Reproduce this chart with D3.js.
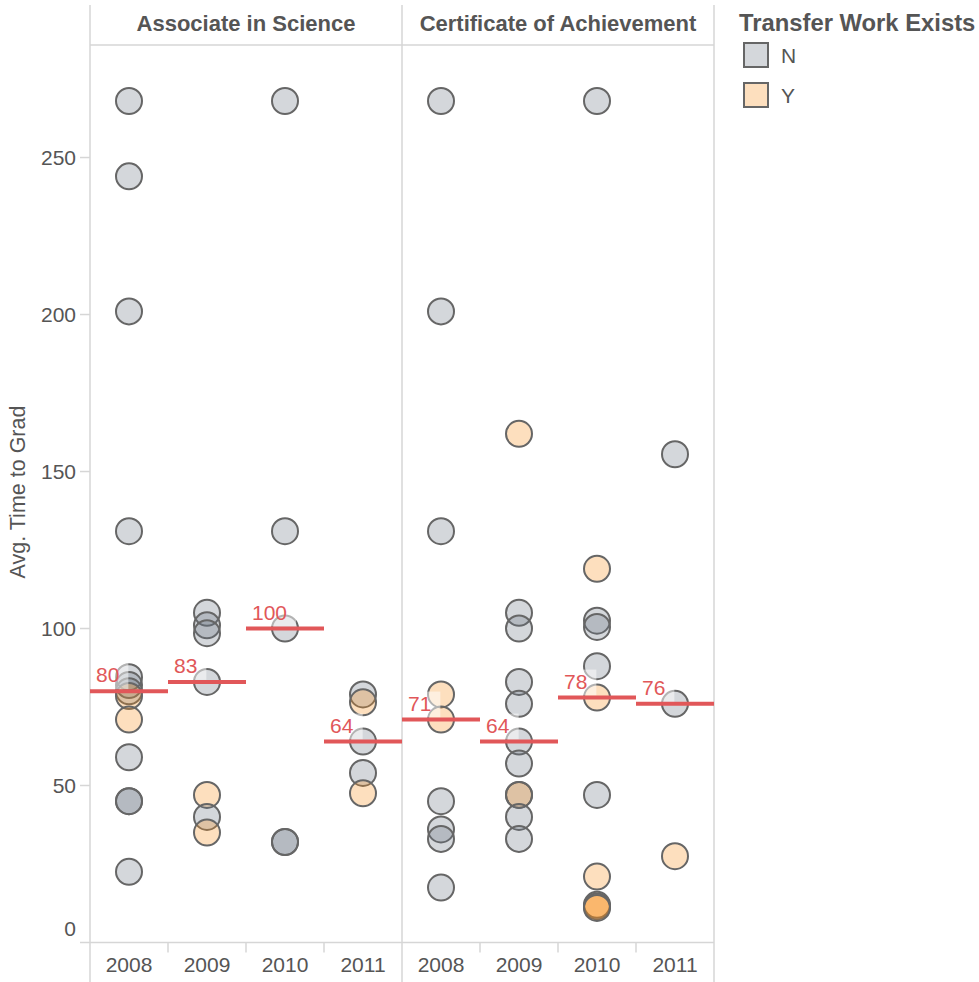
<!DOCTYPE html>
<html><head><meta charset="utf-8">
<script src="https://cdn.jsdelivr.net/npm/d3@7"></script>
<style>body{margin:0;background:#fff;} svg{display:block;font-family:"Liberation Sans",Arial,sans-serif;}</style>
</head><body><svg id="chart" width="979" height="982"></svg>
<script>
const degrees = ["Associate in Science", "Certificate of Achievement"];
const years = ["2008", "2009", "2010", "2011"];
const transferLevels = ["N", "Y"];
const yTickValues = [0, 50, 100, 150, 200, 250];
// [year, avg time to grad, transfer work exists]
const associatePoints = [
  ["2008", 268, "N"], ["2008", 244, "N"], ["2008", 201, "N"], ["2008", 131, "N"],
  ["2008", 84.5, "N"], ["2008", 82, "N"], ["2008", 80, "N"], ["2008", 78.5, "Y"],
  ["2008", 71, "Y"], ["2008", 59, "N"], ["2008", 45, "N"], ["2008", 45, "N"], ["2008", 22.5, "N"],
  ["2009", 105, "N"], ["2009", 101, "N"], ["2009", 98.5, "N"], ["2009", 83, "N"],
  ["2009", 47, "Y"], ["2009", 40, "N"], ["2009", 35, "Y"],
  ["2010", 268, "N"], ["2010", 131, "N"], ["2010", 100, "N"], ["2010", 32, "N"], ["2010", 32, "N"],
  ["2011", 79, "N"], ["2011", 76.5, "Y"], ["2011", 64, "N"], ["2011", 54, "N"], ["2011", 47.5, "Y"]
];
const certificatePoints = [
  ["2008", 268, "N"], ["2008", 201, "N"], ["2008", 131, "N"], ["2008", 79, "Y"], ["2008", 71, "Y"],
  ["2008", 45, "N"], ["2008", 36, "N"], ["2008", 33, "N"], ["2008", 17.5, "N"],
  ["2009", 162, "Y"], ["2009", 105, "N"], ["2009", 100, "N"], ["2009", 83, "N"], ["2009", 76, "N"],
  ["2009", 64, "N"], ["2009", 57, "N"], ["2009", 47, "N"], ["2009", 47, "Y"], ["2009", 40, "N"], ["2009", 33, "N"],
  ["2010", 268, "N"], ["2010", 119, "Y"], ["2010", 102.5, "N"], ["2010", 100.5, "N"], ["2010", 88, "N"],
  ["2010", 78, "Y"], ["2010", 47, "N"], ["2010", 21, "Y"], ["2010", 12, "Y"], ["2010", 11.5, "Y"], ["2010", 11, "Y"],
  ["2011", 155.5, "N"], ["2011", 76, "N"], ["2011", 27.5, "Y"]
];
const panelPoints = [associatePoints, certificatePoints];

const svg = d3.select("#chart");
const gridColor = "#d6d6d6";
const textColor = "#555";
const red = "#e15759";

const x0 = d3.scaleBand().domain(degrees).range([90, 714]);
const x1 = d3.scaleBand().domain(years).range([0, x0.bandwidth()]);
const y = d3.scaleLinear().domain([0, 286]).range([942.5, 44.5]);
const color = d3.scaleOrdinal().domain(transferLevels).range(["#65707e", "#f88c14"]);
const fillOpacity = 0.28;

// frame lines
const frame = svg.append("g").attr("stroke", gridColor).attr("stroke-width", 1.5);
[90, 402, 714].forEach(xv => frame.append("line").attr("x1", xv).attr("x2", xv).attr("y1", 5).attr("y2", 982));
frame.append("line").attr("x1", 90).attr("x2", 714).attr("y1", 45).attr("y2", 45);
frame.append("line").attr("x1", 80).attr("x2", 714).attr("y1", y(0)).attr("y2", y(0));

// y axis ticks & labels
yTickValues.forEach(v => {
  if (v !== 0) frame.append("line").attr("x1", 80).attr("x2", 90).attr("y1", y(v)).attr("y2", y(v));
  svg.append("text").attr("x", 76).attr("y", v === 0 ? y(v) - 7 : y(v) + 7.5)
    .attr("text-anchor", "end").attr("font-size", 21).attr("fill", textColor).text(v);
});
svg.append("text").attr("transform", "translate(25,492) rotate(-90)")
  .attr("text-anchor", "middle").attr("font-size", 21.5).attr("fill", textColor).text("Avg. Time to Grad");

// headers
degrees.forEach(d => {
  svg.append("text").attr("x", x0(d) + x0.bandwidth() / 2).attr("y", 31)
    .attr("text-anchor", "middle").attr("font-size", 22).attr("font-weight", "bold")
    .attr("fill", textColor).text(d);
});

// x axis
degrees.forEach(d => {
  years.forEach((yr, i) => {
    const cx = x0(d) + x1(yr) + x1.bandwidth() / 2;
    svg.append("text").attr("x", cx).attr("y", 971.5).attr("text-anchor", "middle")
      .attr("font-size", 21).attr("fill", textColor).text(yr);
    if (i > 0) frame.append("line").attr("x1", x0(d) + x1(yr)).attr("x2", x0(d) + x1(yr))
      .attr("y1", y(0)).attr("y2", y(0) + 10);
  });
});

// points
degrees.forEach((d, pi) => {
  const g = svg.append("g");
  g.selectAll("circle").data(panelPoints[pi]).join("circle")
    .attr("cx", p => x0(d) + x1(p[0]) + x1.bandwidth() / 2)
    .attr("cy", p => y(p[1]))
    .attr("r", 13)
    .attr("fill", p => color(p[2]))
    .attr("fill-opacity", fillOpacity)
    .attr("stroke", "#666")
    .attr("stroke-width", 2);
});

// medians
degrees.forEach((d, pi) => {
  years.forEach(yr => {
    const vals = panelPoints[pi].filter(p => p[0] === yr).map(p => p[1]);
    const med = d3.median(vals);
    const xs = x0(d) + x1(yr);
    const ym = y(med);
    const lab = svg.append("g");
    const bg = lab.append("rect");
    const t = lab.append("text").attr("x", xs + 6).attr("y", ym - 9)
      .attr("font-size", 21).attr("fill", red).text(d3.format(".0f")(med));
    const bb = t.node().getBBox();
    bg.attr("x", xs + 1).attr("y", bb.y).attr("width", bb.x + bb.width + 9 - xs - 1)
      .attr("height", ym - 2 - bb.y).attr("fill", "#fff").attr("fill-opacity", 0.5);
    svg.append("line").attr("x1", xs).attr("x2", xs + x1.bandwidth())
      .attr("y1", ym).attr("y2", ym).attr("stroke", red).attr("stroke-width", 4);
  });
});

// legend
svg.append("text").attr("x", 739).attr("y", 31).attr("font-size", 23.8).attr("font-weight", "bold")
  .attr("fill", textColor).text("Transfer Work Exists");
transferLevels.forEach((lv, i) => {
  svg.append("rect").attr("x", 744).attr("y", 43 + i * 40).attr("width", 24).attr("height", 24)
    .attr("fill", color(lv)).attr("fill-opacity", fillOpacity).attr("stroke", "#666").attr("stroke-width", 2);
  svg.append("text").attr("x", 781).attr("y", 63 + i * 40).attr("font-size", 21)
    .attr("fill", textColor).text(lv);
});
</script></body></html>
